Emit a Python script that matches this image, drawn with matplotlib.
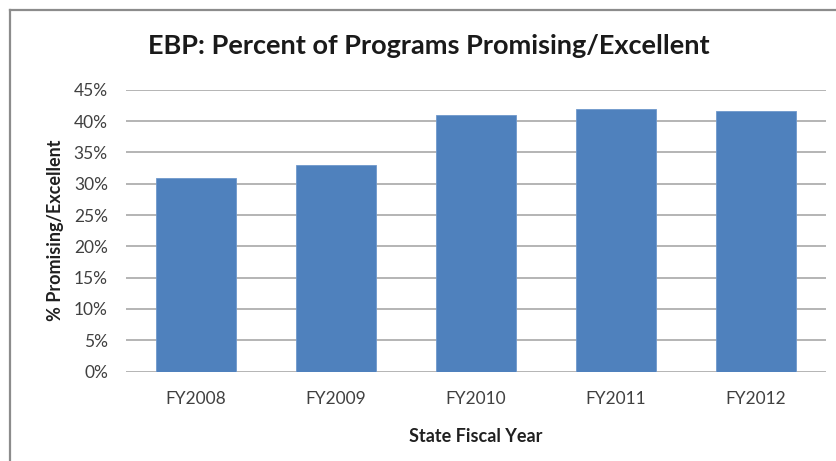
import matplotlib
matplotlib.use("Agg")
import matplotlib.pyplot as plt
from matplotlib.lines import Line2D
from matplotlib.ticker import FuncFormatter, MultipleLocator

years = ["FY2008", "FY2009", "FY2010", "FY2011", "FY2012"]
pct_promising = [31.0, 33.0, 41.0, 42.0, 41.7]

plt.rcParams["font.family"] = ["Lato", "DejaVu Sans"]

fig = plt.figure(figsize=(8.37, 4.61), dpi=100)
ax = fig.add_axes([0.1505, 0.194, 0.8364, 0.611])

x = range(len(years))
ax.bar(x, pct_promising, width=0.57, color="#4f81bd", edgecolor="#6f98cc",
       linewidth=0.6, zorder=3)

ax.set_xlim(-0.5, len(years) - 0.5)
ax.set_ylim(0, 45)
ax.yaxis.set_major_locator(MultipleLocator(5))
ax.yaxis.set_major_formatter(FuncFormatter(lambda v, _: f"{v:.0f}%"))
ax.set_xticks(list(x))
ax.set_xticklabels(years)

ax.grid(axis="y", color="#b4b4b4", linewidth=1.4, zorder=0)
for s in ax.spines.values():
    s.set_visible(False)
ax.tick_params(axis="both", length=0, labelsize=12.5, colors="#404040")
ax.tick_params(axis="x", pad=14)
ax.tick_params(axis="y", pad=13)

ax.set_xlabel("State Fiscal Year", fontsize=13, fontweight="bold",
              color="#202020", labelpad=15)
ax.set_ylabel("% Promising/Excellent", fontsize=13, fontweight="bold",
              color="#202020", labelpad=7)

fig.text(0.512, 0.9, "EBP: Percent of Programs Promising/Excellent",
         ha="center", va="center", fontsize=19.5, fontweight="bold",
         color="#1a1a1a")

# chart frame
fig.add_artist(Line2D([10 / 837, 10 / 837], [0, 1 - 10 / 461],
                      transform=fig.transFigure, color="#8c8c8c", linewidth=1.6))
fig.add_artist(Line2D([10 / 837, 1], [1 - 10 / 461, 1 - 10 / 461],
                      transform=fig.transFigure, color="#8c8c8c", linewidth=1.6))

fig.savefig("out.png", dpi=100, facecolor="white")
